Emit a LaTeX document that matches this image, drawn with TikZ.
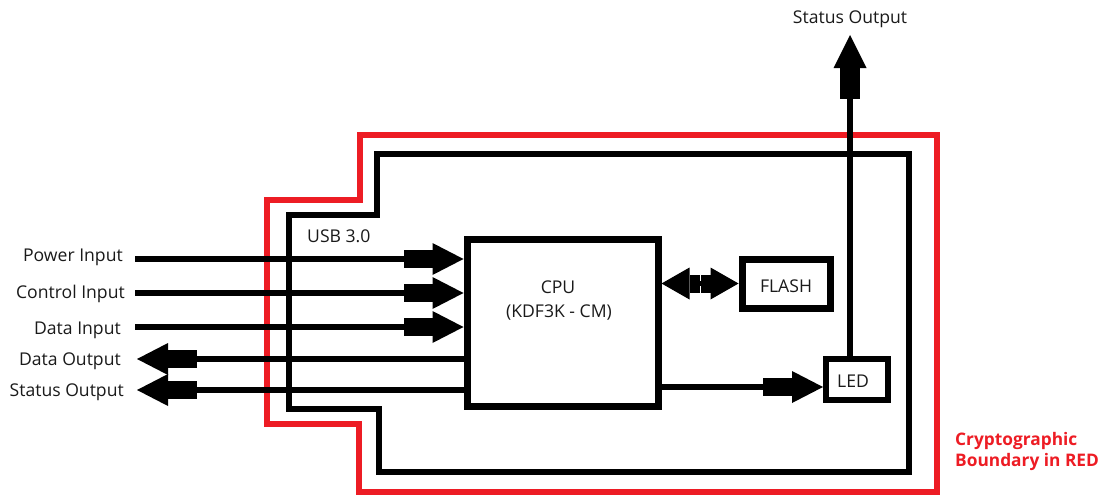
\documentclass[tikz,border=0pt]{standalone}
\usepackage{fontspec}
\setmainfont{Open Sans}
\usetikzlibrary{arrows.meta}
\definecolor{bred}{HTML}{ED1C24}
\definecolor{txt}{HTML}{1A1A1A}
\tikzset{
  lbl/.style={font=\fontsize{17.6}{21}\selectfont, text=txt, inner sep=0pt},
  redlbl/.style={font=\fontsize{17.3}{21}\selectfont\bfseries, text=bred, inner sep=0pt},
  box/.style={draw, line width=7pt, inner sep=0pt, miter limit=10},
  bound/.style={line width=6pt, line join=miter},
  wire/.style={line width=5.5pt},
  barrow/.style={wire, -{Rectangle[length=29pt,width=18pt,line width=0pt,sep=0pt]Triangle[length=31pt,width=32pt,line width=0pt,sep=0pt]}},
  uparrow/.style={wire, -{Rectangle[length=31pt,width=20pt,line width=0pt,sep=0pt]Triangle[length=33pt,width=33pt,line width=0pt,sep=0pt]}},
  halfarrow/.style={wire, -{Rectangle[length=10pt,width=18pt,line width=0pt,sep=0pt]Triangle[length=28pt,width=32pt,line width=0pt,sep=0pt]}}
}
\begin{document}
\begin{tikzpicture}[x=1pt,y=-1pt]
\useasboundingbox (0,0) rectangle (1102,495);
% boundaries
\draw[bound, bred] (267,200) -- (360,200) -- (360,135) -- (937,135) -- (937,492) -- (359,492) -- (359,424) -- (267,424) -- cycle;
\draw[bound, black] (289,215) -- (377,215) -- (377,154) -- (909,154) -- (909,472) -- (379,472) -- (379,409) -- (289,409) -- cycle;
% boxes
\node[box, minimum width=191pt, minimum height=167pt] (cpu) at (562.5,322.5) {};
\node[box, minimum width=88pt, minimum height=49pt] (flash) at (786,283.5) {};
\node[box, line width=6pt, minimum width=62pt, minimum height=41pt] (led) at (857,379.5) {};
% texts
\node[lbl, anchor=base] (cput1) at (558,293) {CPU};
\node[lbl, anchor=base] (cput2) at (559,317) {(KDF3K - CM)};
\node[lbl, anchor=base] (flasht) at (786,292) {FLASH};
\node[lbl, anchor=base] (ledt) at (853,387) {LED};
\node[lbl, anchor=base west] (usb) at (307,242) {USB 3.0};
\node[lbl, anchor=base east] (pwr) at (123,261) {Power Input};
\node[lbl, anchor=base east] (ctl) at (125,298) {Control Input};
\node[lbl, anchor=base east] (din) at (121,334) {Data Input};
\node[lbl, anchor=base east] (dout) at (121,365) {Data Output};
\node[lbl, anchor=base east] (sout) at (124,396) {Status Output};
\node[lbl, anchor=base] (soutt) at (850,24) {Status Output};
\node[redlbl, anchor=base west] (crypt1) at (955,445) {Cryptographic};
\node[redlbl, anchor=base west] (crypt2) at (955,466) {Boundary in RED};
% free ends
\coordinate (pin) at (135,259);
\coordinate (cin) at (135,293);
\coordinate (dinc) at (135,327);
\coordinate (doutc) at (137,359);
\coordinate (soutc) at (137,390);
\coordinate (stop) at (850,35);
\coordinate (fmid) at (700,283.5);
% connectors
\draw[barrow] (pin) -- (cpu.west |- pin);
\draw[barrow] (cin) -- (cpu.west |- cin);
\draw[barrow] (dinc) -- (cpu.west |- dinc);
\draw[barrow] (cpu.west |- doutc) -- (doutc);
\draw[barrow] (cpu.west |- soutc) -- (soutc);
\draw[halfarrow] (fmid) -- (cpu.east |- fmid);
\draw[halfarrow] (fmid) -- (flash.west |- fmid);
\draw[barrow] (cpu.east |- 0,387) -- (led.west |- 0,387);
\draw[uparrow] (led.north -| stop) -- (stop);
\end{tikzpicture}
\end{document}
